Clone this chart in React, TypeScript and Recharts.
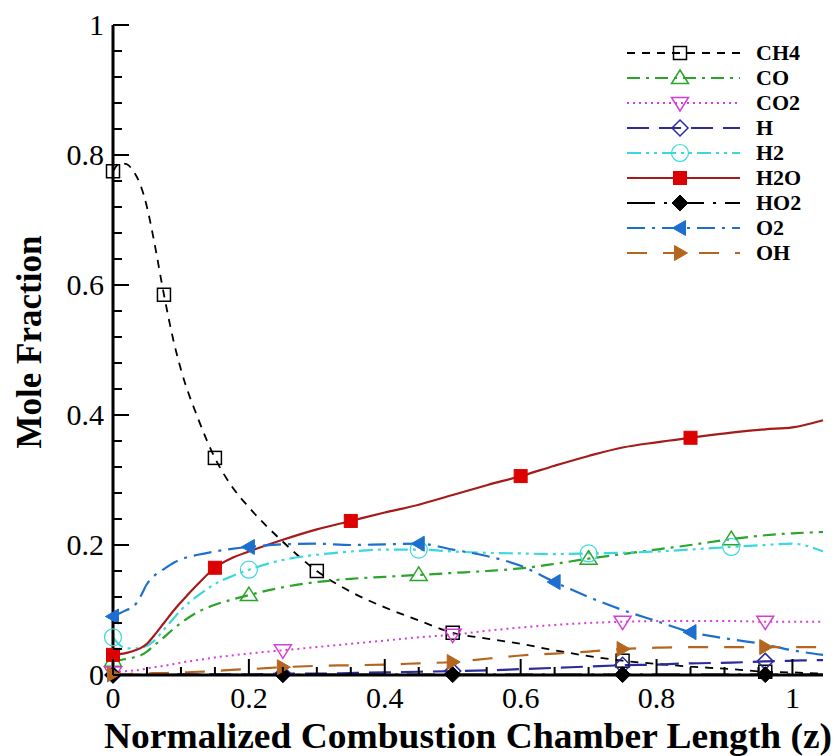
import { LineChart, Line, XAxis, YAxis, Legend } from "recharts";

// shared axial positions (normalized length z)
const Z = [
  0, 0.01, 0.02, 0.03, 0.04, 0.05, 0.06, 0.075, 0.09, 0.1, 0.125, 0.15, 0.175, 0.2, 0.25, 0.3,
  0.35, 0.4, 0.45, 0.5, 0.55, 0.6, 0.65, 0.7, 0.75, 0.8, 0.85, 0.91, 0.96, 1.0, 1.045,
];

// mole fractions
const CH4 = [
  0.775, 0.787, 0.786, 0.775, 0.755, 0.72, 0.67, 0.585, 0.51, 0.47, 0.395, 0.334, 0.29, 0.258, 0.205,
  0.16, 0.128, 0.104, 0.084, 0.065, 0.056, 0.048, 0.038, 0.029, 0.022, 0.017, 0.013, 0.009, 0.005,
  0.004, 0.002,
];
const CO = [
  0.022, 0.023, 0.025, 0.027, 0.03, 0.036, 0.045, 0.058, 0.072, 0.08, 0.097, 0.108, 0.116, 0.123,
  0.135, 0.143, 0.148, 0.151, 0.154, 0.157, 0.16, 0.164, 0.171, 0.179, 0.186, 0.193, 0.2, 0.209,
  0.215, 0.218, 0.22,
];
const CO2 = [
  0.004, 0.005, 0.006, 0.007, 0.008, 0.01, 0.012, 0.014, 0.017, 0.019, 0.023, 0.027, 0.03, 0.033,
  0.038, 0.043, 0.048, 0.053, 0.058, 0.062, 0.068, 0.073, 0.077, 0.08, 0.082, 0.083, 0.083, 0.083,
  0.082, 0.082, 0.082,
];
const H = [
  0, 0, 0, 0, 0, 0.0005, 0.0005, 0.001, 0.001, 0.001, 0.001, 0.001, 0.001, 0.001, 0.002, 0.002,
  0.003, 0.004, 0.005, 0.006, 0.007, 0.009, 0.011, 0.013, 0.015, 0.016, 0.018, 0.019, 0.021, 0.022,
  0.023,
];
const H2 = [
  0.058, 0.046, 0.041, 0.041, 0.042, 0.045, 0.052, 0.07, 0.088, 0.1, 0.122, 0.14, 0.152, 0.162,
  0.177, 0.185, 0.19, 0.193, 0.193, 0.19, 0.188, 0.187, 0.186, 0.187, 0.188, 0.19, 0.193, 0.197,
  0.2, 0.202, 0.19,
];
const H2O = [
  0.031, 0.032, 0.034, 0.037, 0.041, 0.048, 0.06, 0.08, 0.1, 0.112, 0.14, 0.165, 0.18, 0.19, 0.208,
  0.224, 0.237, 0.25, 0.262, 0.277, 0.292, 0.306, 0.322, 0.337, 0.35, 0.358, 0.365, 0.373, 0.378,
  0.381, 0.392,
];
const HO2 = [
  0, 0.0003, 0.0005, 0.0005, 0.0005, 0.0005, 0.0005, 0.0005, 0.0005, 0.0005, 0.0005, 0.0005, 0.0005,
  0.0005, 0.0005, 0.0006, 0.0006, 0.0006, 0.0006, 0.0006, 0.0006, 0.0006, 0.0006, 0.0006, 0.0006,
  0.0006, 0.0006, 0.0006, 0.0006, 0.0006, 0.0006,
];
const O2 = [
  0.09, 0.095, 0.1, 0.105, 0.12, 0.14, 0.152, 0.163, 0.173, 0.178, 0.185, 0.19, 0.194, 0.197, 0.201,
  0.202, 0.2, 0.201, 0.202, 0.193, 0.183, 0.168, 0.143, 0.12, 0.1, 0.083, 0.066, 0.055, 0.047, 0.038,
  0.031,
];
const OH = [
  0.001, 0.001, 0.001, 0.002, 0.002, 0.002, 0.003, 0.003, 0.004, 0.004, 0.005, 0.006, 0.008, 0.009,
  0.012, 0.014, 0.015, 0.016, 0.018, 0.02, 0.025, 0.03, 0.033, 0.036, 0.04, 0.042, 0.043, 0.043,
  0.043, 0.043, 0.043,
];

// where each curve carries a symbol
const CH4_MARKS = [0, 0.075, 0.15, 0.3, 0.5, 0.75, 0.96];
const CO_MARKS = [0, 0.2, 0.45, 0.7, 0.91];
const H2O_MARKS = [0, 0.15, 0.35, 0.6, 0.85];
const O2_MARKS = [0, 0.2, 0.45, 0.65, 0.85];
const QUARTER_MARKS = [0, 0.25, 0.5, 0.75, 0.96];

const X_TICKS = [
  0, 0.05, 0.1, 0.15, 0.2, 0.25, 0.3, 0.35, 0.4, 0.45, 0.5, 0.55, 0.6, 0.65, 0.7, 0.75, 0.8, 0.85,
  0.9, 0.95, 1,
];
const Y_TICKS = [
  0, 0.04, 0.08, 0.12, 0.16, 0.2, 0.24, 0.28, 0.32, 0.36, 0.4, 0.44, 0.48, 0.52, 0.56, 0.6, 0.64,
  0.68, 0.72, 0.76, 0.8, 0.84, 0.88, 0.92, 0.96, 1,
];

const FONT = "Liberation Serif, Times New Roman, serif";

type Shape = "square" | "triUp" | "triDown" | "diamond" | "circle" | "triLeft" | "triRight";

const SERIES: {
  key: string;
  color: string;
  markColor: string;
  dash: string;
  width: number;
  shape: Shape;
  filled: boolean;
  marks: number[];
}[] = [
  { key: "CH4", color: "#000000", markColor: "#000000", dash: "8 7", width: 1.8, shape: "square", filled: false, marks: CH4_MARKS },
  { key: "CO", color: "#2aa52a", markColor: "#2aa52a", dash: "13 6 3 6", width: 2.2, shape: "triUp", filled: false, marks: CO_MARKS },
  { key: "CO2", color: "#d53fd5", markColor: "#d53fd5", dash: "2 4", width: 2, shape: "triDown", filled: false, marks: QUARTER_MARKS },
  { key: "H", color: "#2b2b9c", markColor: "#2b2b9c", dash: "22 10", width: 2.2, shape: "diamond", filled: false, marks: QUARTER_MARKS },
  { key: "H2", color: "#3ad8da", markColor: "#3ad8da", dash: "14 5 3 5 3 5", width: 2.2, shape: "circle", filled: false, marks: CO_MARKS },
  { key: "H2O", color: "#a51a1a", markColor: "#dd0000", dash: "", width: 2.2, shape: "square", filled: true, marks: H2O_MARKS },
  { key: "HO2", color: "#000000", markColor: "#000000", dash: "28 9 3 9", width: 2, shape: "diamond", filled: true, marks: QUARTER_MARKS },
  { key: "O2", color: "#1d6fcf", markColor: "#1d6fcf", dash: "18 7 3 7", width: 2.2, shape: "triLeft", filled: true, marks: O2_MARKS },
  { key: "OH", color: "#b5651d", markColor: "#b5651d", dash: "20 16", width: 2.2, shape: "triRight", filled: true, marks: QUARTER_MARKS },
];

const VALUES: Record<string, number[]> = { CH4, CO, CO2, H, H2, H2O, HO2, O2, OH };

const data = Z.map((z, i) => {
  const row: Record<string, number> = { z };
  Object.keys(VALUES).forEach((k) => {
    row[k] = VALUES[k][i];
  });
  return row;
});

const Marker = ({ shape, cx, cy, color, filled }: { shape: Shape; cx: number; cy: number; color: string; filled: boolean }) => {
  const s = 6.5;
  const fill = filled ? color : "none";
  const common = { fill, stroke: color, strokeWidth: filled ? 1 : 1.5 };
  switch (shape) {
    case "square":
      return <rect x={cx - s} y={cy - s} width={2 * s} height={2 * s} {...common} />;
    case "circle":
      return <circle cx={cx} cy={cy} r={s + 2} {...common} strokeWidth={1.2} />;
    case "diamond":
      return <polygon points={`${cx},${cy - s - 1.5} ${cx + s + 1.5},${cy} ${cx},${cy + s + 1.5} ${cx - s - 1.5},${cy}`} {...common} />;
    case "triUp":
      return <polygon points={`${cx},${cy - s - 1.5} ${cx + s + 2},${cy + s - 1} ${cx - s - 2},${cy + s - 1}`} {...common} />;
    case "triDown":
      return <polygon points={`${cx},${cy + s + 1.5} ${cx + s + 2},${cy - s + 1} ${cx - s - 2},${cy - s + 1}`} {...common} />;
    case "triLeft":
      return <polygon points={`${cx - s - 1},${cy} ${cx + s - 1},${cy - s - 1} ${cx + s - 1},${cy + s + 1}`} {...common} />;
    case "triRight":
      return <polygon points={`${cx + s + 1},${cy} ${cx - s + 1},${cy - s - 1} ${cx - s + 1},${cy + s + 1}`} {...common} />;
  }
  return null;
};

const isMajor = (v: number) => Math.abs(v * 5 - Math.round(v * 5)) < 1e-6;
const fmt = (v: number) => String(Math.round(v * 10) / 10);

const XTick = (props: any) => {
  const { x, y, payload } = props;
  const major = isMajor(payload.value);
  return (
    <g>
      <line x1={x} x2={x} y1={y} y2={y - (major ? 16 : 8)} stroke="#000" strokeWidth={2} />
      {major && (
        <text x={x} y={y + 33} textAnchor="middle" fill="#000" style={{ fontFamily: FONT, fontSize: 30 }}>
          {fmt(payload.value)}
        </text>
      )}
    </g>
  );
};

const YTick = (props: any) => {
  const { x, y, payload } = props;
  const major = isMajor(payload.value);
  return (
    <g>
      <line x1={x} x2={x + (major ? 16 : 9)} y1={y} y2={y} stroke="#000" strokeWidth={2} />
      {major && (
        <text x={x - 9} y={y + 10} textAnchor="end" fill="#000" style={{ fontFamily: FONT, fontSize: 30 }}>
          {fmt(payload.value)}
        </text>
      )}
    </g>
  );
};

const XTitle = (props: any) => {
  const { x, y, width } = props.viewBox;
  return (
    <text
      x={x + width / 2}
      y={y + 73}
      textAnchor="middle"
      textLength={728}
      lengthAdjust="spacingAndGlyphs"
      fill="#000"
      style={{ fontFamily: FONT, fontSize: 35, fontWeight: "bold" }}
    >
      Normalized Combustion Chamber Length (z)
    </text>
  );
};

const YTitle = (props: any) => {
  const { x, y, height } = props.viewBox;
  const cx = x + 29;
  const cy = y + height / 2 - 8;
  return (
    <text
      x={cx}
      y={cy}
      transform={`rotate(-90 ${cx} ${cy})`}
      textAnchor="middle"
      dominantBaseline="central"
      fill="#000"
      style={{ fontFamily: FONT, fontSize: 35, fontWeight: "bold" }}
    >
      Mole Fraction
    </text>
  );
};

const LegendBox = () => (
  <svg width={215} height={235}>
    {SERIES.map((s, i) => {
      const cy = 13 + i * 25;
      return (
        <g key={s.key}>
          <line x1={7} x2={120} y1={cy} y2={cy} stroke={s.color} strokeWidth={s.width} strokeDasharray={s.dash || undefined} />
          <Marker shape={s.shape} cx={60} cy={cy} color={s.markColor} filled={s.filled} />
          <text x={136} y={cy + 7} fill="#000" style={{ fontFamily: FONT, fontSize: 22, fontWeight: "bold" }}>
            {s.key}
          </text>
        </g>
      );
    })}
  </svg>
);

export default function App() {
  return (
    <div style={{ position: "absolute", left: 0, top: 0, background: "#fff" }}>
      <LineChart width={839} height={756} data={data} margin={{ top: 25, right: 16, bottom: 0, left: 0 }}>
        <XAxis
          dataKey="z"
          type="number"
          domain={[0, 1.045]}
          ticks={X_TICKS}
          interval={0}
          height={81}
          tickSize={0}
          tickMargin={0}
          tickLine={false}
          axisLine={{ stroke: "#000", strokeWidth: 3 }}
          tick={<XTick />}
          label={<XTitle />}
        />
        <XAxis
          xAxisId="top"
          orientation="top"
          dataKey="z"
          type="number"
          domain={[0, 1.045]}
          height={0}
          tick={false}
          tickLine={false}
          axisLine={{ stroke: "#000", strokeWidth: 2.5 }}
        />
        <YAxis
          type="number"
          domain={[0, 1]}
          ticks={Y_TICKS}
          interval={0}
          width={113}
          tickSize={0}
          tickMargin={0}
          tickLine={false}
          axisLine={{ stroke: "#000", strokeWidth: 3 }}
          tick={<YTick />}
          label={<YTitle />}
        />
        <YAxis
          yAxisId="right"
          orientation="right"
          type="number"
          domain={[0, 1]}
          width={0}
          tick={false}
          tickLine={false}
          axisLine={{ stroke: "#000", strokeWidth: 2.5 }}
        />
        <Legend
          layout="vertical"
          align="center"
          verticalAlign="middle"
          content={<LegendBox />}
          wrapperStyle={{ position: "absolute", left: 620, top: 40, width: 215, height: 235 }}
        />
        {SERIES.map((s) => (
          <Line
            key={s.key}
            dataKey={s.key}
            type="monotone"
            stroke={s.color}
            strokeWidth={s.width}
            strokeDasharray={s.dash || undefined}
            isAnimationActive={false}
            activeDot={false}
            dot={(p: any) =>
              s.marks.includes(p.payload.z) ? (
                <Marker key={`${s.key}-${p.index}`} shape={s.shape} cx={p.cx} cy={p.cy} color={s.markColor} filled={s.filled} />
              ) : (
                <g key={`${s.key}-${p.index}`} />
              )
            }
          />
        ))}
      </LineChart>
    </div>
  );
}
